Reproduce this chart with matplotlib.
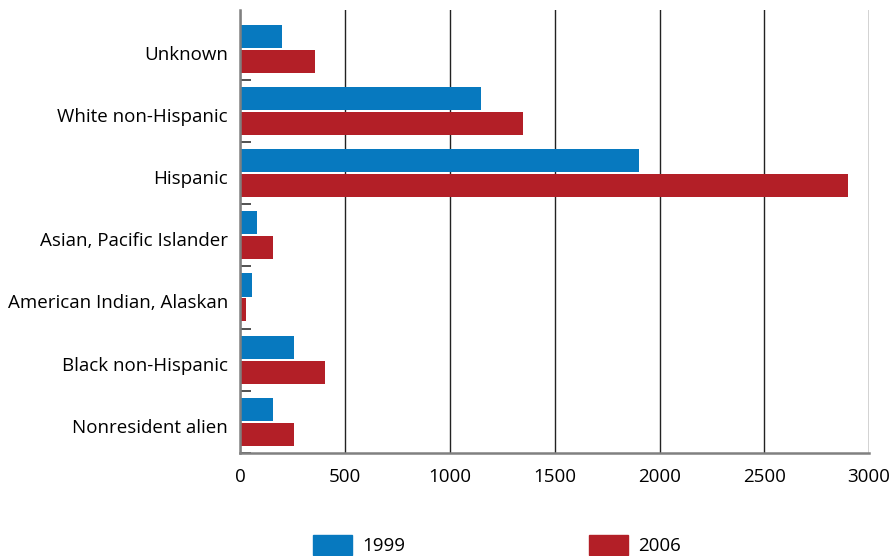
import matplotlib
matplotlib.use("Agg")
import matplotlib.pyplot as plt
import matplotlib.transforms as mtransforms
from matplotlib.patches import Patch
import numpy as np

plt.rcParams['font.family'] = ['Open Sans', 'DejaVu Sans']

categories = ["Nonresident alien", "Black non-Hispanic", "American Indian, Alaskan",
              "Asian, Pacific Islander", "Hispanic", "White non-Hispanic", "Unknown"]
vals_1999 = [155, 255, 55, 80, 1900, 1150, 200]
vals_2006 = [255, 405, 25, 155, 2900, 1350, 355]
xticks = [0, 500, 1000, 1500, 2000, 2500, 3000]

blue = "#0779bf"
red = "#b31f27"
fs = 13.5

fig = plt.figure(figsize=(8.93, 5.56), dpi=100)
ax = fig.add_axes([240.5 / 893, 1 - 453 / 556, 628.5 / 893, 443 / 556])

y = np.arange(len(categories))
h = 0.37
ax.barh(y + 0.2, vals_1999, height=h, color=blue, label="1999", zorder=3)
ax.barh(y - 0.2, vals_2006, height=h, color=red, label="2006", zorder=3)

ax.set_xlim(0, 3000)
ax.set_ylim(-0.5, 6.62)
ax.set_xticks(xticks)
ax.set_xticklabels([str(t) for t in xticks], fontsize=fs)
ax.set_yticks(y)
ax.set_yticklabels(categories, fontsize=fs)
ax.set_yticks(np.arange(len(categories)) - 0.5, minor=True)
ax.tick_params(axis='y', which='major', length=0, pad=9)
ax.tick_params(axis='y', which='minor', direction='in', length=8, width=1.2, color="#333333")
ax.tick_params(axis='x', length=0, pad=11)

# labels sit a little below the group centre in the original
shift = mtransforms.ScaledTranslation(0, -4 / 100, fig.dpi_scale_trans)
for lab in ax.get_yticklabels():
    lab.set_transform(lab.get_transform() + shift)

ax.grid(axis='x', color="#222222", linewidth=1, zorder=1)
for s in ['top', 'right']:
    ax.spines[s].set_visible(False)
ax.spines['left'].set_color("#808080")
ax.spines['left'].set_linewidth(1.8)
ax.spines['bottom'].set_color("#808080")
ax.spines['bottom'].set_linewidth(1.8)
ax.spines['left'].set_zorder(4)

handles = [Patch(color=blue, label="1999"), Patch(color=red, label="2006")]
fig.legend(handles=handles, loc='upper left', bbox_to_anchor=(313 / 893, 1 - 535 / 556),
           ncol=2, frameon=False, fontsize=fs, handlelength=2.08, handleheight=1.25,
           handletextpad=0.55, columnspacing=9.8, borderpad=0, borderaxespad=0)

fig.savefig("out.png", dpi=100)
